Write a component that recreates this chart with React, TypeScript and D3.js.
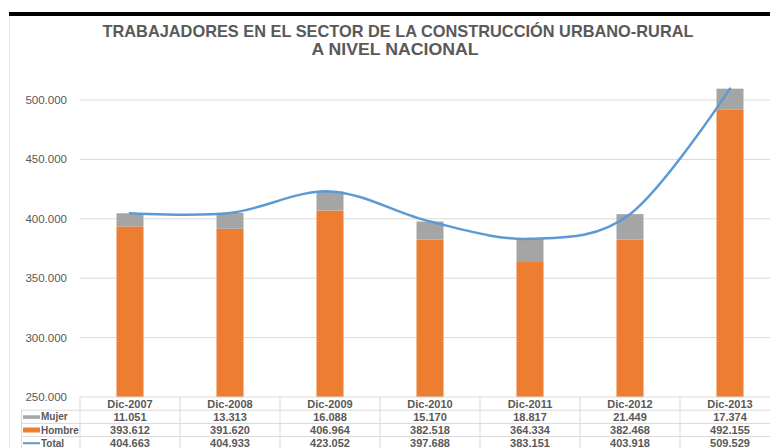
import * as d3 from 'd3';

const CATEGORIES = ['Dic-2007', 'Dic-2008', 'Dic-2009', 'Dic-2010', 'Dic-2011', 'Dic-2012', 'Dic-2013'];
const MUJER = [11051, 13313, 16088, 15170, 18817, 21449, 17374];
const HOMBRE = [393612, 391620, 406964, 382518, 364334, 382468, 492155];
const TOTAL = [404663, 404933, 423052, 397688, 383151, 403918, 509529];
const Y_TICKS = [250000, 300000, 350000, 400000, 450000, 500000];

const MUJER_COLOR = '#A5A5A5';
const HOMBRE_COLOR = '#ED7D31';
const TOTAL_COLOR = '#5B9BD5';
const TEXT_COLOR = '#595959';
const GRID_COLOR = '#D9D9D9';

const W = 770;
const H = 448;
const FONT = '"Liberation Sans", Arial, sans-serif';

const fmt = (v: number) => d3.format(',')(v).replace(/,/g, '.');

export default function App() {
  const x = d3.scaleBand<string>()
    .domain(CATEGORIES)
    .range([80, 780])
    .paddingInner(0.73)
    .paddingOuter(0.365);
  const y = d3.scaleLinear().domain([250000, 500000]).range([397, 100]);
  const bw = x.bandwidth();
  const cx = (c: string) => (x(c) ?? 0) + bw / 2;
  const step = x.step();

  const linePath = d3.line<number>()
    .x((_, i) => cx(CATEGORIES[i]))
    .y((v) => y(v))
    .curve(d3.curveCardinal.tension(0))(TOTAL) ?? '';

  // data table rows below the plot
  const rowTop = 397;
  const rowH = 13.2;
  const rows = [
    { label: 'Mujer', values: MUJER },
    { label: 'Hombre', values: HOMBRE },
    { label: 'Total', values: TOTAL },
  ];

  return (
    <svg width={W} height={H} style={{ position: 'fixed', left: 0, top: 0, background: '#fff' }} fontFamily={FONT}>
      <rect x={9} y={12} width={W - 9} height={4} fill="#000" />
      <line x1={9.5} x2={9.5} y1={16} y2={H} stroke="#E4E4E4" />

      <text x={398} y={37} textAnchor="middle" fontSize={17} fontWeight="bold" fill={TEXT_COLOR}
        textLength={591} lengthAdjust="spacingAndGlyphs">
        TRABAJADORES EN EL SECTOR DE LA CONSTRUCCIÓN URBANO-RURAL
      </text>
      <text x={395} y={55} textAnchor="middle" fontSize={17} fontWeight="bold" fill={TEXT_COLOR}
        textLength={167} lengthAdjust="spacingAndGlyphs">
        A NIVEL NACIONAL
      </text>

      {/* gridlines + y labels */}
      {Y_TICKS.map((t) => (
        <g key={t}>
          {t > 250000 && (
            <line x1={80} x2={W} y1={y(t)} y2={y(t)} stroke={GRID_COLOR} strokeWidth={1} />
          )}
          <text x={67} y={y(t)} dy="0.35em" textAnchor="end" fontSize={11.5} fill={TEXT_COLOR}>
            {fmt(t)}
          </text>
        </g>
      ))}

      {/* stacked bars */}
      {CATEGORIES.map((c, i) => (
        <g key={c}>
          <rect x={x(c)} y={y(HOMBRE[i])} width={bw} height={y(250000) - y(HOMBRE[i])} fill={HOMBRE_COLOR} />
          <rect x={x(c)} y={y(HOMBRE[i] + MUJER[i])} width={bw} height={y(HOMBRE[i]) - y(HOMBRE[i] + MUJER[i])} fill={MUJER_COLOR} />
        </g>
      ))}

      <path d={linePath} fill="none" stroke={TOTAL_COLOR} strokeWidth={2.5} strokeLinecap="round" />

      {/* data table */}
      <g stroke={GRID_COLOR} strokeWidth={1}>
        <line x1={80} x2={W} y1={rowTop} y2={rowTop} />
        {rows.map((_, r) => (
          <line key={r} x1={21.5} x2={W} y1={rowTop + rowH * (r + 1)} y2={rowTop + rowH * (r + 1)} />
        ))}
        <line x1={21.5} x2={21.5} y1={rowTop + rowH} y2={H} />
        {CATEGORIES.map((c) => (
          <line key={c} x1={cx(c) - step / 2} x2={cx(c) - step / 2} y1={rowTop} y2={H} />
        ))}
      </g>
      {CATEGORIES.map((c) => (
        <text key={c} x={cx(c)} y={rowTop + rowH / 2} dy="0.36em" textAnchor="middle" fontSize={11} fontWeight="bold" fill={TEXT_COLOR}>
          {c}
        </text>
      ))}
      {rows.map((row, r) => {
        const ry = rowTop + rowH * (r + 1) + rowH / 2;
        return (
          <g key={row.label}>
            {row.label === 'Mujer' && <rect x={23} y={ry - 1.5} width={17} height={3.5} fill={MUJER_COLOR} />}
            {row.label === 'Hombre' && <rect x={23} y={ry - 2.5} width={17} height={5} fill={HOMBRE_COLOR} />}
            {row.label === 'Total' && <rect x={23} y={ry - 1} width={17} height={2} fill={TOTAL_COLOR} />}
            <text x={41} y={ry} dy="0.36em" fontSize={10} fontWeight="bold" fill={TEXT_COLOR}>{row.label}</text>
            {row.values.map((v, i) => (
              <text key={i} x={cx(CATEGORIES[i])} y={ry} dy="0.36em" textAnchor="middle" fontSize={11} fontWeight="bold" fill={TEXT_COLOR}>
                {fmt(v)}
              </text>
            ))}
          </g>
        );
      })}
    </svg>
  );
}
